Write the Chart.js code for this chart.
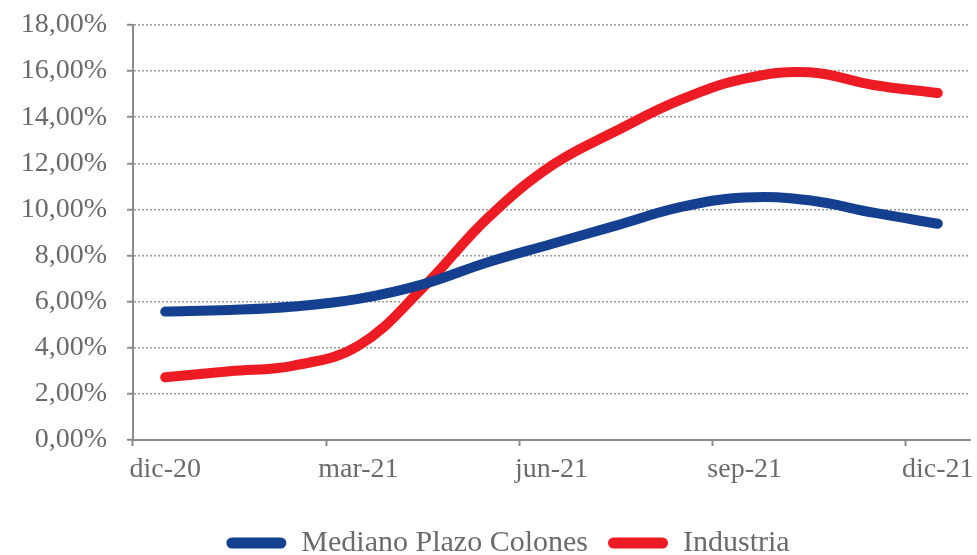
<!DOCTYPE html>
<html lang="es">
<head>
<meta charset="utf-8">
<title>Mediano Plazo Colones vs Industria</title>
<script src="https://cdn.jsdelivr.net/npm/chart.js@4"></script>
<style>
  html, body { margin: 0; padding: 0; background: #ffffff; }
  #wrap { width: 977px; height: 555px; position: relative; }
</style>
</head>
<body>
<div id="wrap"><canvas id="chart" width="977" height="555"></canvas></div>
<script>
// Monthly categories; only quarter months carry a visible label
const months = ['dic-20', 'ene-21', 'feb-21', 'mar-21', 'abr-21', 'may-21', 'jun-21',
                'jul-21', 'ago-21', 'sep-21', 'oct-21', 'nov-21', 'dic-21'];
const quarterStep = 3;

// Rates in percent
const medianoPlazoColones = [5.57, 5.64, 5.79, 6.12, 6.75, 7.70, 8.50, 9.30, 10.10, 10.52, 10.40, 9.86, 9.38];
const industria           = [2.72, 2.98, 3.23, 4.09, 6.60, 9.60, 11.90, 13.40, 14.75, 15.67, 15.95, 15.40, 15.05];

const yTicks = { min: 0, max: 18, step: 2 };
const seriesNames = ['Mediano Plazo Colones', 'Industria'];

const GREY_TEXT = '#6b6b6b';
const GREY_AXIS = '#8a8a8a';
const GREY_GRID = '#9a9a9a';
const BLUE = '#15408f';
const RED = '#ed1c24';
const SERIF = '"Liberation Serif", "DejaVu Serif", serif';
const TICK_FONT = { family: SERIF, size: 28 };
const LEGEND_FONT = { family: SERIF, size: 30 };

const fmtPct = v => v.toFixed(2).replace('.', ',') + '%';

// Nudges the legend row sideways after layout
const legendShift = {
  id: 'legendShift',
  afterLayout(chart, args, opts) {
    if (chart.legend) {
      chart.legend.left += opts.dx;
      chart.legend.right += opts.dx;
    }
  }
};

const lineStyle = color => ({
  borderColor: color,
  backgroundColor: color,
  borderWidth: 10,
  borderCapStyle: 'round',
  borderJoinStyle: 'round',
  tension: 0.4,
  pointRadius: 0,
  pointHoverRadius: 0
});

new Chart(document.getElementById('chart'), {
  type: 'line',
  data: {
    labels: months,
    datasets: [
      Object.assign({ label: seriesNames[0], data: medianoPlazoColones }, lineStyle(BLUE)),
      Object.assign({ label: seriesNames[1], data: industria }, lineStyle(RED))
    ]
  },
  plugins: [legendShift],
  options: {
    responsive: false,
    animation: false,
    events: [],
    layout: { padding: { left: 0, right: 7, top: 25, bottom: -13 } },
    plugins: {
      tooltip: { enabled: false },
      legendShift: { dx: 23 },
      legend: {
        position: 'bottom',
        labels: {
          color: GREY_TEXT,
          font: LEGEND_FONT,
          boxWidth: 60,
          boxHeight: 11,
          useBorderRadius: true,
          borderRadius: 5.5,
          padding: 20,
          generateLabels: chart =>
            Chart.defaults.plugins.legend.labels.generateLabels(chart)
              .map(item => Object.assign(item, { lineWidth: 0 }))
        }
      }
    },
    scales: {
      x: {
        type: 'category',
        offset: true,
        grid: {
          offset: true,
          drawOnChartArea: false,
          drawTicks: true,
          tickLength: 6,
          tickWidth: 2,
          tickColor: ctx => (ctx.index % quarterStep === 0 ? GREY_AXIS : 'rgba(0,0,0,0)')
        },
        border: { display: true, color: GREY_AXIS, width: 2 },
        ticks: {
          autoSkip: false,
          maxRotation: 0,
          minRotation: 0,
          padding: 7,
          color: GREY_TEXT,
          font: TICK_FONT,
          callback: function (value, index) {
            return index % quarterStep === 0 ? this.getLabelForValue(value) : '';
          }
        },
        afterFit: scale => {
          scale.height = 68;
          scale.paddingLeft = 0;
          scale.paddingRight = 0;
        }
      },
      y: {
        min: yTicks.min,
        max: yTicks.max,
        grid: {
          color: GREY_GRID,
          lineWidth: 1.5,
          drawTicks: true,
          tickLength: 6,
          tickColor: GREY_AXIS,
          tickWidth: 2
        },
        border: { display: true, color: GREY_AXIS, width: 2, dash: [2, 2] },
        ticks: {
          stepSize: yTicks.step,
          padding: 20,
          color: GREY_TEXT,
          font: TICK_FONT,
          callback: v => fmtPct(v)
        },
        afterFit: scale => {
          scale.width = 133;
          scale.paddingTop = 0;
          scale.paddingBottom = 0;
        }
      }
    }
  }
});
</script>
</body>
</html>
